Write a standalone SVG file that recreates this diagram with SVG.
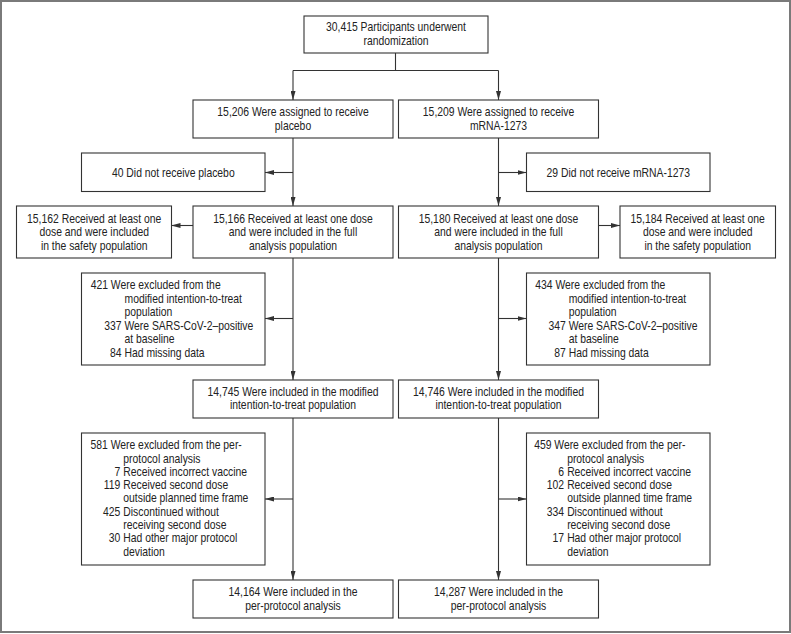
<svg xmlns="http://www.w3.org/2000/svg" width="791" height="634" viewBox="0 0 791 634">
<style>
.frame{fill:#fff;stroke:#7a7a7a;stroke-width:2}
.box{fill:#fff;stroke:#333;stroke-width:1.1}
.ln{fill:none;stroke:#333;stroke-width:1.1}
text{font-family:"Liberation Sans",Arial,sans-serif;font-size:12.2px;fill:#222}
.c{text-anchor:middle}
.e{text-anchor:end}
</style>
<defs>
<marker id="ah" viewBox="0 0 9 5" refX="9" refY="2.5" markerWidth="9" markerHeight="5" markerUnits="userSpaceOnUse" orient="auto">
<path d="M0,0 L9,2.5 L0,5 z" fill="#333"/>
</marker>
</defs>
<rect class="frame" x="1" y="1" width="789" height="631"/>
<g id="connectors">
<path class="ln" d="M395.5,53 V70.5 M293,70.5 H498.5"/>
<path class="ln" d="M293,70.5 V100" marker-end="url(#ah)"/>
<path class="ln" d="M498.5,70.5 V100" marker-end="url(#ah)"/>
<path class="ln" d="M293,138 V206" marker-end="url(#ah)"/>
<path class="ln" d="M293,172.5 H265" marker-end="url(#ah)"/>
<path class="ln" d="M498.5,138 V206" marker-end="url(#ah)"/>
<path class="ln" d="M498.5,172.5 H526.5" marker-end="url(#ah)"/>
<path class="ln" d="M193,225.5 H171.5" marker-end="url(#ah)"/>
<path class="ln" d="M598.5,225.5 H620" marker-end="url(#ah)"/>
<path class="ln" d="M293,258 V380" marker-end="url(#ah)"/>
<path class="ln" d="M293,318.5 H265" marker-end="url(#ah)"/>
<path class="ln" d="M498.5,258 V380" marker-end="url(#ah)"/>
<path class="ln" d="M498.5,318.5 H526.5" marker-end="url(#ah)"/>
<path class="ln" d="M293,418 V580" marker-end="url(#ah)"/>
<path class="ln" d="M293,499 H265" marker-end="url(#ah)"/>
<path class="ln" d="M498.5,418 V580" marker-end="url(#ah)"/>
<path class="ln" d="M498.5,499 H526.5" marker-end="url(#ah)"/>
</g>
<g id="randomized">
<rect class="box" x="304" y="16" width="184" height="37"/>
<g transform="translate(396 0) scale(.85 1)">
<text class="c" x="0" y="31.5">30,415 Participants underwent</text>
<text class="c" x="0" y="45">randomization</text>
</g>
</g>
<g id="assigned-placebo">
<rect class="box" x="193" y="100" width="200" height="38"/>
<g transform="translate(293 0) scale(.85 1)">
<text class="c" x="0" y="116.5">15,206 Were assigned to receive</text>
<text class="c" x="0" y="130">placebo</text>
</g>
</g>
<g id="assigned-mrna">
<rect class="box" x="398.5" y="100" width="200" height="38"/>
<g transform="translate(498.5 0) scale(.85 1)">
<text class="c" x="0" y="116.5">15,209 Were assigned to receive</text>
<text class="c" x="0" y="130">mRNA-1273</text>
</g>
</g>
<g id="not-placebo">
<rect class="box" x="81.5" y="153" width="183.5" height="38.5"/>
<g transform="translate(173.3 0) scale(.85 1)">
<text class="c" x="0" y="177">40 Did not receive placebo</text>
</g>
</g>
<g id="not-mrna">
<rect class="box" x="526.5" y="153" width="183.5" height="38.5"/>
<g transform="translate(618.3 0) scale(.85 1)">
<text class="c" x="0" y="177">29 Did not receive mRNA-1273</text>
</g>
</g>
<g id="safety-placebo">
<rect class="box" x="16.5" y="206" width="155" height="52"/>
<g transform="translate(94.2 0) scale(.85 1)">
<text class="c" x="0" y="222.7">15,162 Received at least one</text>
<text class="c" x="0" y="236.2">dose and were included</text>
<text class="c" x="0" y="249.7">in the safety population</text>
</g>
</g>
<g id="full-placebo">
<rect class="box" x="193" y="206" width="200" height="52"/>
<g transform="translate(293 0) scale(.85 1)">
<text class="c" x="0" y="222.7">15,166 Received at least one dose</text>
<text class="c" x="0" y="236.2">and were included in the full</text>
<text class="c" x="0" y="249.7">analysis population</text>
</g>
</g>
<g id="full-mrna">
<rect class="box" x="398.5" y="206" width="200" height="52"/>
<g transform="translate(498.5 0) scale(.85 1)">
<text class="c" x="0" y="222.7">15,180 Received at least one dose</text>
<text class="c" x="0" y="236.2">and were included in the full</text>
<text class="c" x="0" y="249.7">analysis population</text>
</g>
</g>
<g id="safety-mrna">
<rect class="box" x="620" y="206" width="155.5" height="52"/>
<g transform="translate(697.7 0) scale(.85 1)">
<text class="c" x="0" y="222.7">15,184 Received at least one</text>
<text class="c" x="0" y="236.2">dose and were included</text>
<text class="c" x="0" y="249.7">in the safety population</text>
</g>
</g>
<g id="excl-mitt-placebo">
<rect class="box" x="81.5" y="273" width="183.5" height="92"/>
<g transform="translate(81.5 0) scale(.85 1)">
<text x="10.8" y="289.3">421 Were excluded from the</text>
<text x="50.6" y="302.8">modified intention-to-treat</text>
<text x="50.6" y="316.3">population</text>
<text class="e" x="47.1" y="329.8">337</text>
<text x="50.6" y="329.8">Were SARS-CoV-2–positive</text>
<text x="50.6" y="343.3">at baseline</text>
<text class="e" x="47.1" y="356.8">84</text>
<text x="50.6" y="356.8">Had missing data</text>
</g>
</g>
<g id="excl-mitt-mrna">
<rect class="box" x="526.5" y="273" width="183.5" height="92"/>
<g transform="translate(526.5 0) scale(.85 1)">
<text x="10.4" y="289.3">434 Were excluded from the</text>
<text x="49.6" y="302.8">modified intention-to-treat</text>
<text x="49.6" y="316.3">population</text>
<text class="e" x="46.1" y="329.8">347</text>
<text x="49.6" y="329.8">Were SARS-CoV-2–positive</text>
<text x="49.6" y="343.3">at baseline</text>
<text class="e" x="46.1" y="356.8">87</text>
<text x="49.6" y="356.8">Had missing data</text>
</g>
</g>
<g id="mitt-placebo">
<rect class="box" x="193" y="380" width="200" height="38"/>
<g transform="translate(293 0) scale(.85 1)">
<text class="c" x="0" y="396">14,745 Were included in the modified</text>
<text class="c" x="0" y="409.5">intention-to-treat population</text>
</g>
</g>
<g id="mitt-mrna">
<rect class="box" x="398.5" y="380" width="200" height="38"/>
<g transform="translate(498.5 0) scale(.85 1)">
<text class="c" x="0" y="396">14,746 Were included in the modified</text>
<text class="c" x="0" y="409.5">intention-to-treat population</text>
</g>
</g>
<g id="excl-pp-placebo">
<rect class="box" x="81.5" y="433" width="183.5" height="132"/>
<g transform="translate(81.5 0) scale(.85 1)">
<text x="10.6" y="449.3">581 Were excluded from the per-</text>
<text x="49.2" y="462.6">protocol analysis</text>
<text class="e" x="45.6" y="475.9">7</text>
<text x="49.2" y="475.9">Received incorrect vaccine</text>
<text class="e" x="45.6" y="489.2">119</text>
<text x="49.2" y="489.2">Received second dose</text>
<text x="49.2" y="502.5">outside planned time frame</text>
<text class="e" x="45.6" y="515.8">425</text>
<text x="49.2" y="515.8">Discontinued without</text>
<text x="49.2" y="529.1">receiving second dose</text>
<text class="e" x="45.6" y="542.4">30</text>
<text x="49.2" y="542.4">Had other major protocol</text>
<text x="49.2" y="555.7">deviation</text>
</g>
</g>
<g id="excl-pp-mrna">
<rect class="box" x="526.5" y="433" width="183.5" height="132"/>
<g transform="translate(526.5 0) scale(.85 1)">
<text x="9" y="449.3">459 Were excluded from the per-</text>
<text x="47.8" y="462.6">protocol analysis</text>
<text class="e" x="44.2" y="475.9">6</text>
<text x="47.8" y="475.9">Received incorrect vaccine</text>
<text class="e" x="44.2" y="489.2">102</text>
<text x="47.8" y="489.2">Received second dose</text>
<text x="47.8" y="502.5">outside planned time frame</text>
<text class="e" x="44.2" y="515.8">334</text>
<text x="47.8" y="515.8">Discontinued without</text>
<text x="47.8" y="529.1">receiving second dose</text>
<text class="e" x="44.2" y="542.4">17</text>
<text x="47.8" y="542.4">Had other major protocol</text>
<text x="47.8" y="555.7">deviation</text>
</g>
</g>
<g id="pp-placebo">
<rect class="box" x="193" y="580" width="200" height="38"/>
<g transform="translate(293 0) scale(.85 1)">
<text class="c" x="0" y="596.5">14,164 Were included in the</text>
<text class="c" x="0" y="610">per-protocol analysis</text>
</g>
</g>
<g id="pp-mrna">
<rect class="box" x="398.5" y="580" width="200" height="38"/>
<g transform="translate(498.5 0) scale(.85 1)">
<text class="c" x="0" y="596.5">14,287 Were included in the</text>
<text class="c" x="0" y="610">per-protocol analysis</text>
</g>
</g>
</svg>
